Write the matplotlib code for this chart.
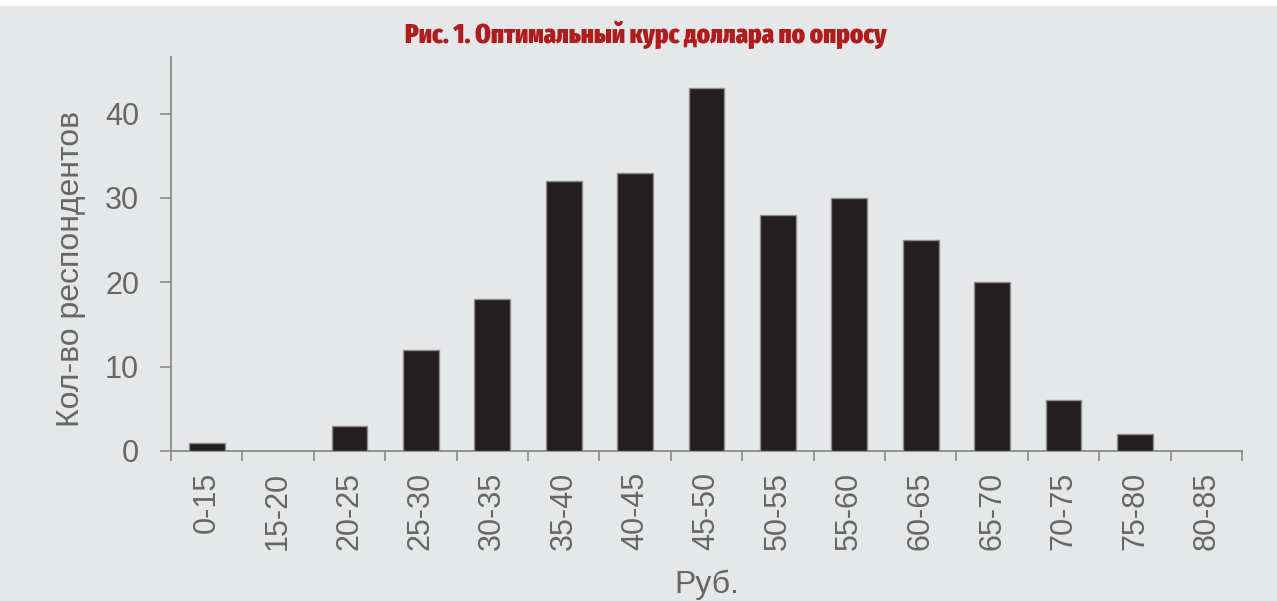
import matplotlib
matplotlib.use("Agg")
import matplotlib.pyplot as plt
from matplotlib.patches import Rectangle

categories = ["0-15", "15-20", "20-25", "25-30", "30-35", "35-40", "40-45", "45-50",
              "50-55", "55-60", "60-65", "65-70", "70-75", "75-80", "80-85"]
counts = [1, 0, 3, 12, 18, 32, 33, 43, 28, 30, 25, 20, 6, 2, 0]
y_ticks = [0, 10, 20, 30, 40]

title = "Рис. 1. Оптимальный курс доллара по опросу"
x_label = "Руб."
y_label = "Кол-во респондентов"

bg = "#e6e7e9"
axis_grey = "#8a8a8a"
text_grey = "#666666"

plt.rcParams["font.family"] = ["Liberation Sans", "DejaVu Sans"]

fig = plt.figure(figsize=(12.77, 6.01), dpi=100)
fig.patch.set_facecolor(bg)
fig.patches.append(Rectangle((0, 1 - 6 / 601), 1, 6 / 601, transform=fig.transFigure,
                             facecolor="white", edgecolor="none", zorder=0))

ax = fig.add_axes([171 / 1277, 1 - 451 / 601, (1242 - 171) / 1277, (451 - 57) / 601])
ax.set_facecolor(bg)

x = list(range(len(categories)))
ax.bar(x, counts, width=0.5, color="#231f20", edgecolor="#8c8c8c", linewidth=1.0, zorder=3)

ax.set_xlim(-0.5, len(categories) - 0.5)
ax.set_ylim(0, 46.7)

for side in ["top", "right"]:
    ax.spines[side].set_visible(False)
for side in ["left", "bottom"]:
    ax.spines[side].set_color(axis_grey)
    ax.spines[side].set_linewidth(1.3)

ax.set_yticks(y_ticks)
ax.tick_params(axis="y", direction="out", length=8, width=1.2, color=axis_grey,
               labelsize=22, labelcolor=text_grey, pad=15)

ax.set_xticks(x)
ax.set_xticklabels(categories, rotation=90)
ax.set_xticks([i - 0.5 for i in range(len(categories) + 1)], minor=True)
ax.tick_params(axis="x", which="major", length=0, labelsize=22, labelcolor=text_grey, pad=15)
ax.tick_params(axis="x", which="minor", direction="out", length=7, width=1.2, color=axis_grey)

ax.set_xlabel(x_label, fontsize=23, color=text_grey, labelpad=14)
ax.set_ylabel(y_label, fontsize=23, color=text_grey)
ax.yaxis.set_label_coords(-85 / 1071, (451 - 269) / 394)

# condensed heavy face for the red heading
fig.text(646 / 1277, 1 - 35 / 601, title, ha="center", va="center",
         fontsize=19.4, fontweight="black", fontstretch="condensed", color="#b01c1c",
         family=["Fira Sans Extra Condensed", "Fira Sans Condensed", "DejaVu Sans"])

fig.savefig("out.png", dpi=100, facecolor=fig.get_facecolor())
